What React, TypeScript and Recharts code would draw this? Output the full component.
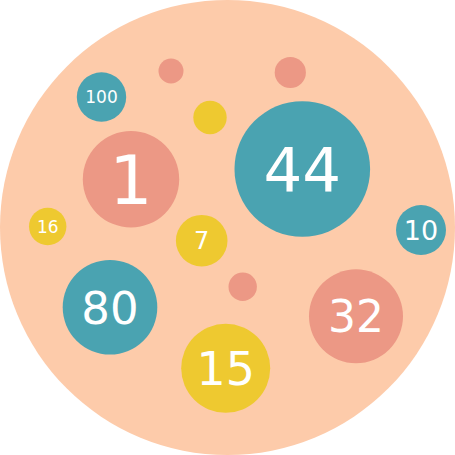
import { Scatter, ScatterChart, XAxis, YAxis, ZAxis } from 'recharts';

// Packed bubbles: centre (x, y) and radius r in a 455 × 455 unit field.
interface Bubble {
  x: number;
  y: number;
  r: number;
  label: string | null;
}

const OUTER: Bubble[] = [{ x: 227.5, y: 227.5, r: 227.5, label: null }];

const TEAL: Bubble[] = [
  { x: 101.5, y: 97, r: 24.7, label: '100' },
  { x: 302.3, y: 169, r: 67.8, label: '44' },
  { x: 421, y: 230, r: 25, label: '10' },
  { x: 110, y: 307.3, r: 47.3, label: '80' },
];

const SALMON: Bubble[] = [
  { x: 171, y: 71, r: 12.5, label: null },
  { x: 290.3, y: 72.5, r: 15.6, label: null },
  { x: 131, y: 179.3, r: 48.2, label: '1' },
  { x: 242.7, y: 286.7, r: 14.2, label: null },
  { x: 356, y: 316.3, r: 47, label: '32' },
];

const YELLOW: Bubble[] = [
  { x: 210, y: 117.5, r: 16.7, label: null },
  { x: 47.7, y: 226.5, r: 18.7, label: '16' },
  { x: 201.7, y: 240.7, r: 25.8, label: '7' },
  { x: 225.7, y: 368.3, r: 44.5, label: '15' },
];

const COL_OUTER = '#FDCBAA';
const COL_TEAL = '#4AA3B1';
const COL_SALMON = '#EC9885';
const COL_YELLOW = '#EEC930';

// label font size (px), tuned per bubble
const FONT_PX: Record<string, number> = {
  '1': 68,
  '44': 61,
  '80': 45,
  '32': 44,
  '15': 46,
  '100': 17,
  '16': 17,
  '7': 24,
  '10': 27,
};

const SIZE = 455;
const MAX_R = 227.5;

// ZAxis maps z (= r²) onto symbol area (π r²), so the drawn radius equals r.
const withArea = (rows: Bubble[]) => rows.map((b) => ({ ...b, z: b.r * b.r }));

function BubbleShape(props: any) {
  const { cx, cy, width, size, fill, payload } = props;
  const r = width != null ? width / 2 : Math.sqrt((size ?? 0) / Math.PI);
  const label: string | null = payload?.label ?? null;
  const fs = label ? FONT_PX[label] ?? 20 : 0;
  return (
    <g>
      <circle cx={cx} cy={cy} r={r} fill={fill} />
      {label && (
        <text
          x={cx}
          y={cy + fs * 0.364}
          textAnchor="middle"
          fill="#FFFFFF"
          fontSize={fs}
          fontFamily="'DejaVu Sans', sans-serif"
        >
          {label}
        </text>
      )}
    </g>
  );
}

export default function App() {
  return (
    <div style={{ width: SIZE, height: SIZE }}>
      <style>{'body{margin:0}'}</style>
      <ScatterChart width={SIZE} height={SIZE} margin={{ top: 0, right: 0, bottom: 0, left: 0 }}>
        <XAxis type="number" dataKey="x" domain={[0, SIZE]} allowDataOverflow hide />
        <YAxis type="number" dataKey="y" domain={[0, SIZE]} allowDataOverflow reversed hide />
        <ZAxis
          type="number"
          dataKey="z"
          domain={[0, MAX_R * MAX_R]}
          range={[0, Math.PI * MAX_R * MAX_R]}
        />
        <Scatter data={withArea(OUTER)} fill={COL_OUTER} shape={BubbleShape} isAnimationActive={false} />
        <Scatter data={withArea(TEAL)} fill={COL_TEAL} shape={BubbleShape} isAnimationActive={false} />
        <Scatter data={withArea(SALMON)} fill={COL_SALMON} shape={BubbleShape} isAnimationActive={false} />
        <Scatter data={withArea(YELLOW)} fill={COL_YELLOW} shape={BubbleShape} isAnimationActive={false} />
      </ScatterChart>
    </div>
  );
}
